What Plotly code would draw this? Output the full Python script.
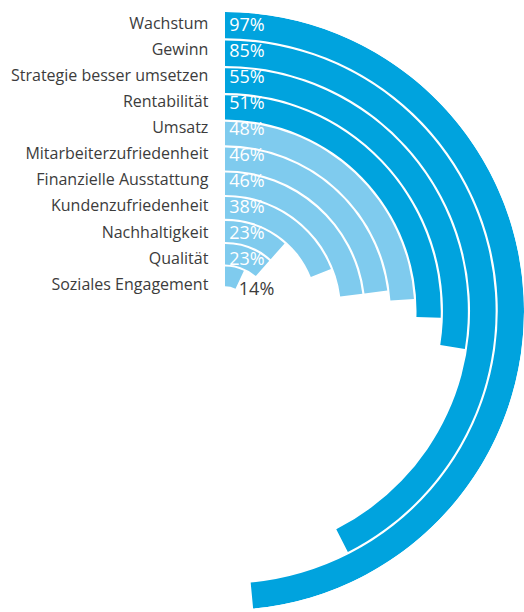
import plotly.graph_objects as go

# Survey results: share of respondents per goal (percent)
categories = [
    "Wachstum",
    "Gewinn",
    "Strategie besser umsetzen",
    "Rentabilität",
    "Umsatz",
    "Mitarbeiterzufriedenheit",
    "Finanzielle Ausstattung",
    "Kundenzufriedenheit",
    "Nachhaltigkeit",
    "Qualität",
    "Soziales Engagement",
]
values = [97, 85, 55, 51, 48, 46, 46, 38, 23, 23, 14]
n_highlight = 4  # top goals drawn in the darker blue

DARK = "#00a3de"
LIGHT = "#7fcbee"
TEXT = "#3c3c3c"
FONT = "Open Sans"

W, H = 524, 612
CX, CY = 225, 311          # centre of the rings in pixels
R_PX = W - CX              # pixel radius of the polar area
R_MAX = 303                # radial axis range
DEG_PER_PCT = 1.8          # 100 % = half circle
GAP = 2.2                  # white gap between rings
ROW0, ROW_STEP = 25.0, 26.07   # label rows (pixels from the top)

n = len(values)


def ring_edge(k):
    """Outer radius of ring k, counted from the innermost ring."""
    return 45 + 22.5 * k + 0.33 * k * k


def px_to_r(y):
    """Radial value of a point straight above the centre at pixel row y."""
    return (CY - y) * R_MAX / R_PX


outer = [ring_edge(n - 1 - i) for i in range(n)]
inner = [ring_edge(n - 2 - i) + GAP for i in range(n)]
colors = [DARK if i < n_highlight else LIGHT for i in range(n)]
spans = [v * DEG_PER_PCT for v in values]
label_r = [px_to_r(ROW0 + ROW_STEP * i) for i in range(n)]

fig = go.Figure()

fig.add_trace(go.Barpolar(
    theta=[s / 2 for s in spans],
    width=spans,
    base=inner,
    r=[o - b for o, b in zip(outer, inner)],
    marker=dict(color=colors, line=dict(width=0)),
    hoverinfo="skip",
))

# category names to the left of the ring starts
fig.add_trace(go.Scatterpolar(
    theta=[0] * n,
    r=label_r,
    mode="markers+text",
    text=categories,
    textposition="middle left",
    marker=dict(size=25, opacity=0),
    textfont=dict(family=FONT, size=16, color=TEXT),
    cliponaxis=False,
    hoverinfo="skip",
))

# percentages inside the rings (all but the smallest)
fig.add_trace(go.Scatterpolar(
    theta=[0] * (n - 1),
    r=[r - 1 for r in label_r[:-1]],
    mode="markers+text",
    text=[f"{v}%" for v in values[:-1]],
    textposition="middle right",
    marker=dict(size=5, opacity=0),
    textfont=dict(family=FONT, size=18, color="white"),
    cliponaxis=False,
    hoverinfo="skip",
))

# smallest ring: value written next to the bar end
fig.add_trace(go.Scatterpolar(
    theta=[spans[-1]],
    r=[inner[-1] - 2],
    mode="markers+text",
    text=[f"{values[-1]}%"],
    textposition="middle right",
    marker=dict(size=5, opacity=0),
    textfont=dict(family=FONT, size=18, color=TEXT),
    cliponaxis=False,
    hoverinfo="skip",
))

fig.update_layout(
    width=W,
    height=H,
    margin=dict(l=0, r=0, t=0, b=0),
    paper_bgcolor="white",
    plot_bgcolor="white",
    showlegend=False,
    polar=dict(
        domain=dict(x=[CX / W, 1], y=[(H - (CY + R_PX)) / H, (H - (CY - R_PX)) / H]),
        sector=[-90, 90],
        bgcolor="white",
        angularaxis=dict(visible=False, rotation=90, direction="clockwise",
                         showgrid=False, showline=False),
        radialaxis=dict(visible=False, range=[0, R_MAX], showgrid=False,
                        showline=False),
    ),
)

fig.write_html("out.html")
